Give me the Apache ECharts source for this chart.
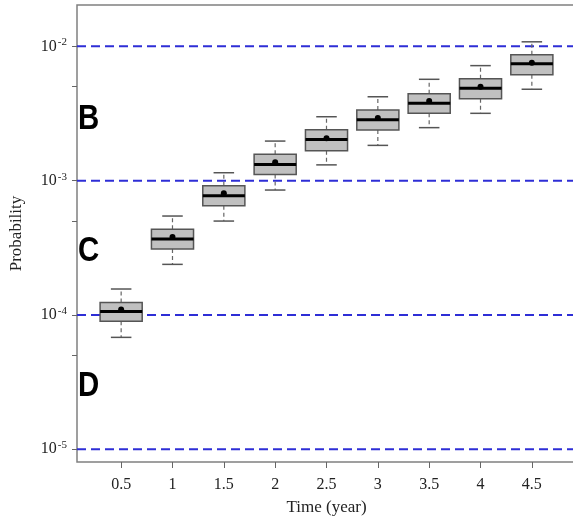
<!DOCTYPE html>
<html>
<head>
<meta charset="utf-8">
<script src="https://cdn.jsdelivr.net/npm/echarts@6/dist/echarts.min.js"></script>
<style>
html,body{margin:0;padding:0;background:#fff;}
#chart{width:573px;height:517px;}
</style>
</head>
<body>
<div id="chart"></div>
<script>
const timeLabels = ['0.5','1','1.5','2','2.5','3','3.5','4','4.5'];
const whiskerLow  = [6.81e-5, 2.38e-4, 5.00e-4, 8.51e-4, 1.31e-3, 1.83e-3, 2.48e-3, 3.17e-3, 4.79e-3];
const q1          = [8.96e-5, 3.10e-4, 6.50e-4, 1.11e-3, 1.67e-3, 2.38e-3, 3.17e-3, 4.07e-3, 6.15e-3];
const median      = [1.06e-4, 3.67e-4, 7.72e-4, 1.32e-3, 2.02e-3, 2.84e-3, 3.77e-3, 4.87e-3, 7.41e-3];
const q3          = [1.24e-4, 4.34e-4, 9.16e-4, 1.57e-3, 2.39e-3, 3.36e-3, 4.44e-3, 5.74e-3, 8.65e-3];
const whiskerHigh = [1.56e-4, 5.45e-4, 1.145e-3, 1.97e-3, 2.99e-3, 4.21e-3, 5.68e-3, 7.18e-3, 1.08e-2];
const meanValues  = [1.10e-4, 3.80e-4, 8.04e-4, 1.37e-3, 2.07e-3, 2.92e-3, 3.92e-3, 5.00e-3, 7.55e-3];
const thresholds  = [1e-2, 1e-3, 1e-4, 1e-5];
const yLabelTicks = [1e-5, 1e-4, 1e-3, 1e-2];
const yTicks      = [1e-5, 5e-5, 1e-4, 5e-4, 1e-3, 5e-3, 1e-2];
const zoneLetters = ['B', 'C', 'D'];
const xMin = 0.14, xMax = 9.86;

const positions = timeLabels.map((_, i) => i + 1);
const boxData = positions.map((p, i) => [p, whiskerLow[i], q1[i], median[i], q3[i], whiskerHigh[i], meanValues[i]]);

const chart = echarts.init(document.getElementById('chart'), null, {renderer: 'canvas'});

function expLabel(v) {
  const e = Math.round(Math.log10(v));
  return '{b|10}{s|' + e + '}';
}

const thresholdSeries = thresholds.map(v => ({
  type: 'line',
  data: [[xMin, v], [xMax, v]],
  symbol: 'none',
  silent: true,
  clip: false,
  z: 1,
  lineStyle: {color: '#2e2ed6', width: 2, type: [9, 5]}
}));

const option = {
  animation: false,
  backgroundColor: '#fff',
  grid: {
    left: 77, top: 5, right: -3, bottom: 55,
    containLabel: false,
    outerBoundsMode: 'none',
    show: true, borderColor: '#808080', borderWidth: 1.5, backgroundColor: 'transparent'
  },
  xAxis: {
    type: 'value',
    min: xMin, max: xMax,
    name: 'Time (year)',
    nameLocation: 'middle',
    nameGap: 37,
    nameTextStyle: {fontFamily: 'Liberation Serif', fontSize: 17, color: '#222'},
    axisLine: {show: false},
    splitLine: {show: false},
    axisTick: {show: true, length: 6, lineStyle: {color: '#666', width: 1}, customValues: positions},
    axisLabel: {
      customValues: positions,
      margin: 15,
      fontFamily: 'Liberation Serif', fontSize: 16, color: '#222',
      formatter: v => timeLabels[Math.round(v) - 1]
    }
  },
  yAxis: {
    type: 'log',
    logBase: 10,
    min: 8.04e-6, max: 0.0203,
    name: 'Probability',
    nameLocation: 'middle',
    nameGap: 52,
    nameRotate: 90,
    nameTextStyle: {fontFamily: 'Liberation Serif', fontSize: 17, color: '#222'},
    axisLine: {show: false},
    splitLine: {show: false},
    axisTick: {show: true, length: 5, lineStyle: {color: '#666', width: 1}, customValues: yTicks},
    axisLabel: {
      customValues: yLabelTicks,
      margin: 10,
      formatter: expLabel,
      rich: {
        b: {fontFamily: 'Liberation Serif', fontSize: 16, color: '#222'},
        s: {fontFamily: 'Liberation Serif', fontSize: 11, color: '#222', padding: [0, 0, 8, 1]}
      }
    }
  },
  graphic: zoneLetters.map((t, i) => ({
    type: 'text',
    x: 78,
    y: [119.5, 251.5, 386][i],
    scaleX: 0.84,
    style: {text: t, fontFamily: 'Liberation Sans', fontWeight: 'bold', fontSize: 35, fill: '#000', verticalAlign: 'middle', align: 'left'}
  })),
  series: thresholdSeries.concat([{
    type: 'custom',
    data: boxData,
    encode: {x: 0, y: [1, 2, 3, 4, 5, 6]},
    clip: false,
    z: 3,
    renderItem: function (params, api) {
      const x = api.value(0);
      const lo = api.coord([x, api.value(1)]);
      const b1 = api.coord([x, api.value(2)]);
      const md = api.coord([x, api.value(3)]);
      const b3 = api.coord([x, api.value(4)]);
      const hi = api.coord([x, api.value(5)]);
      const mn = api.coord([x, api.value(6)]);
      const xl = api.coord([x - 0.41, api.value(3)])[0];
      const xr = api.coord([x + 0.41, api.value(3)])[0];
      const cl = api.coord([x - 0.2, api.value(3)])[0];
      const cr = api.coord([x + 0.2, api.value(3)])[0];
      const cx = md[0];
      const whiskerStyle = {stroke: '#666', lineWidth: 1.2, lineDash: [4, 3]};
      const capStyle = {stroke: '#555', lineWidth: 1.5};
      return {
        type: 'group',
        children: [
          {type: 'line', shape: {x1: cx, y1: b3[1], x2: cx, y2: hi[1]}, style: whiskerStyle},
          {type: 'line', shape: {x1: cx, y1: b1[1], x2: cx, y2: lo[1]}, style: whiskerStyle},
          {type: 'line', shape: {x1: cl, y1: hi[1], x2: cr, y2: hi[1]}, style: capStyle},
          {type: 'line', shape: {x1: cl, y1: lo[1], x2: cr, y2: lo[1]}, style: capStyle},
          {type: 'rect', shape: {x: xl, y: b3[1], width: xr - xl, height: b1[1] - b3[1]},
            style: {fill: '#c0c0c0', stroke: '#555', lineWidth: 1.5}},
          {type: 'line', shape: {x1: xl, y1: md[1], x2: xr, y2: md[1]}, style: {stroke: '#000', lineWidth: 3}},
          {type: 'circle', shape: {cx: mn[0], cy: mn[1], r: 3}, style: {fill: '#000'}}
        ]
      };
    }
  }])
};
chart.setOption(option);
</script>
</body>
</html>
